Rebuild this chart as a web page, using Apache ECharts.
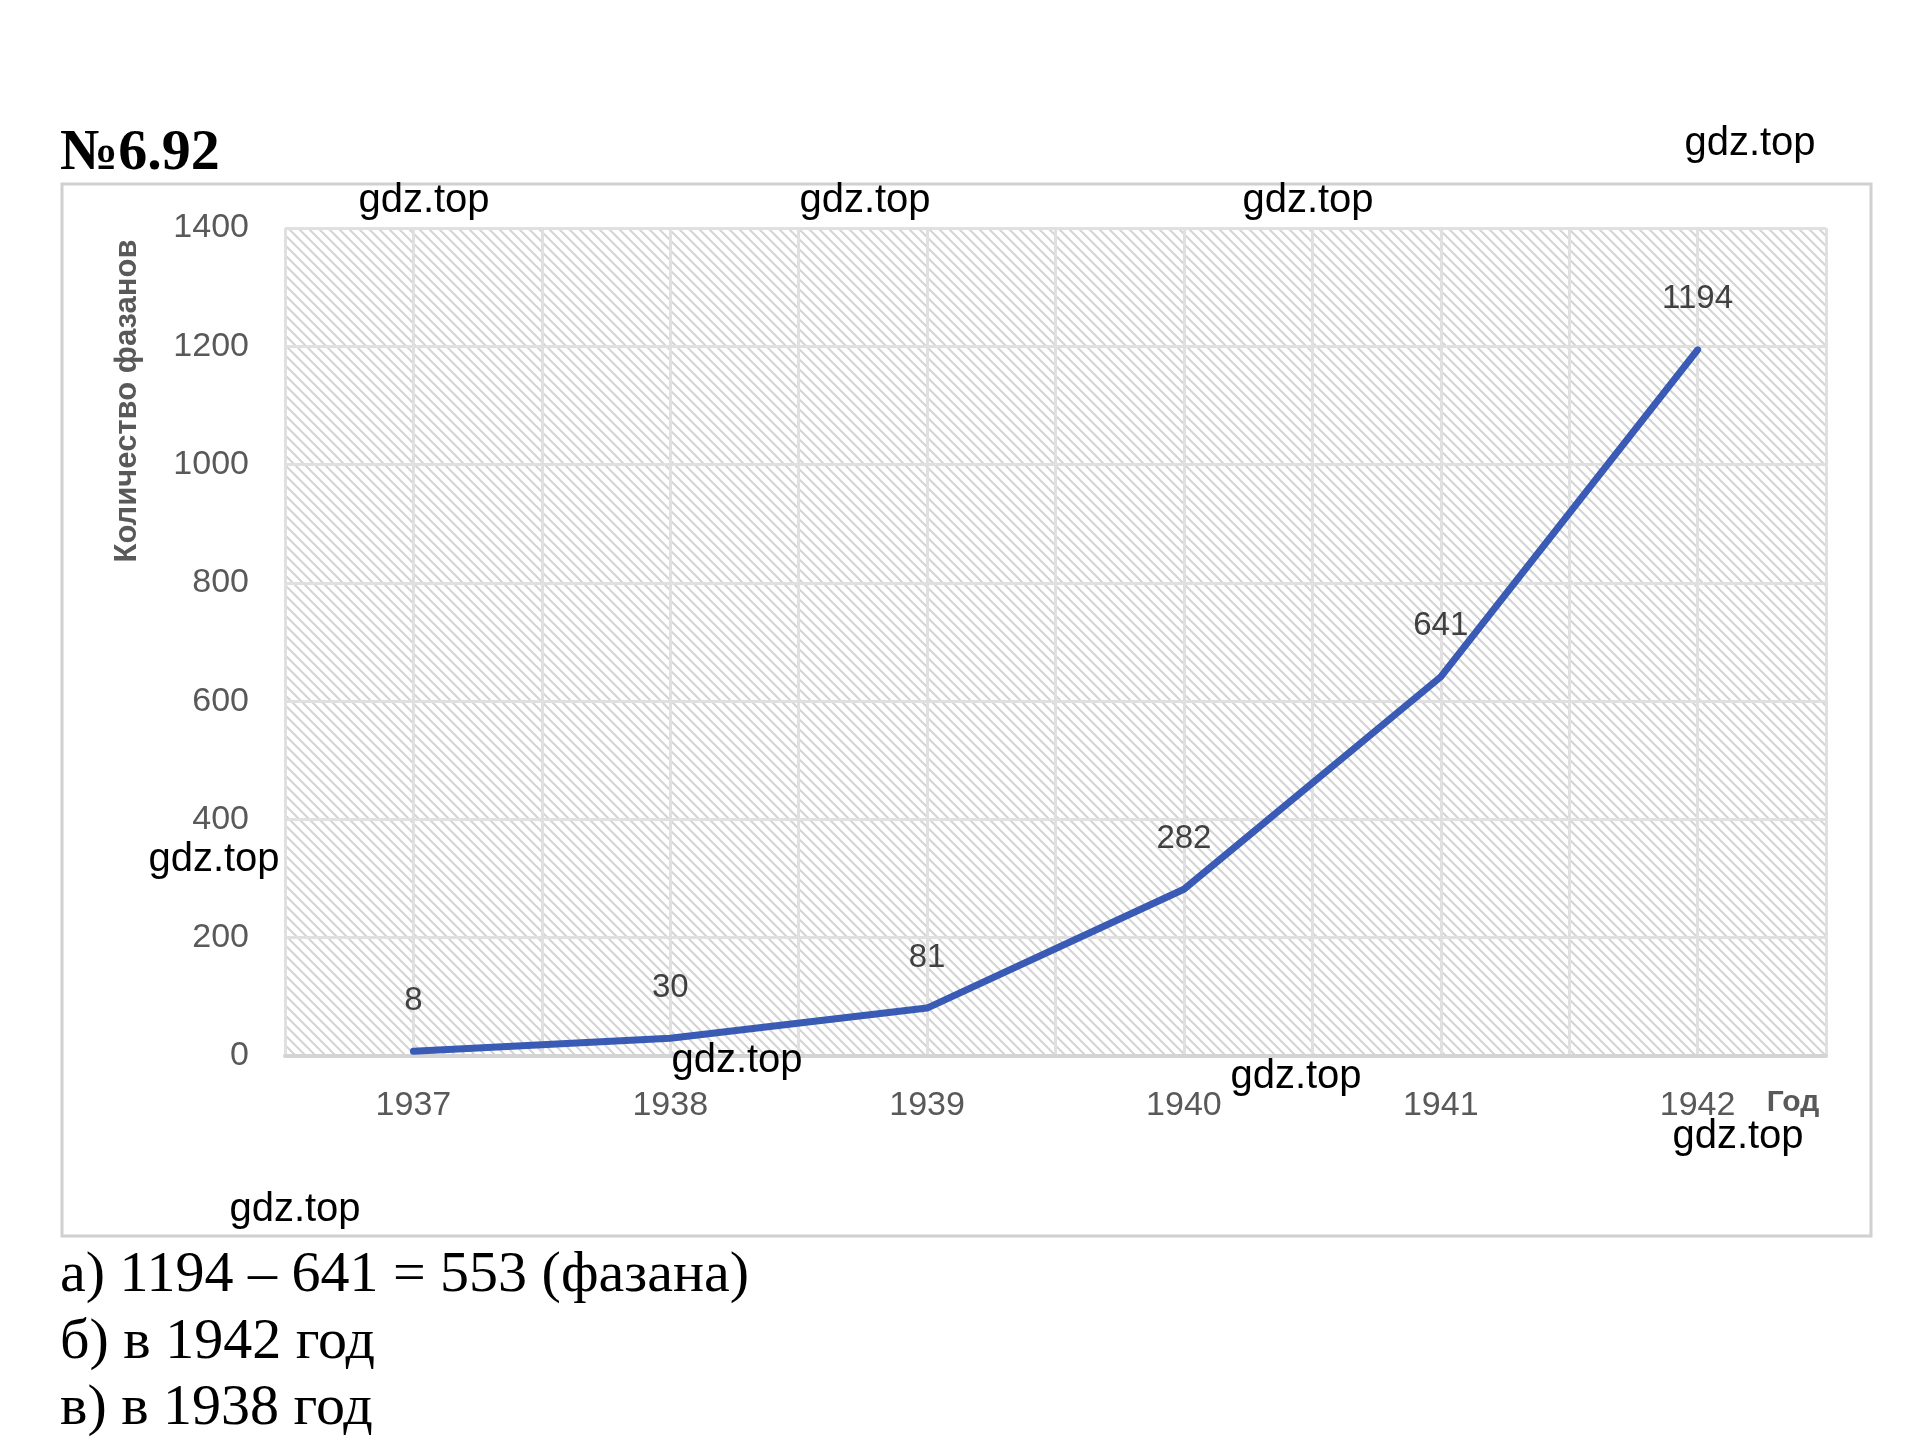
<!DOCTYPE html>
<html>
<head>
<meta charset="utf-8">
<script src="https://cdn.jsdelivr.net/npm/echarts@6/dist/echarts.min.js"></script>
<style>
html,body{margin:0;padding:0;background:#fff;}
#c{width:1923px;height:1437px;}
</style>
</head>
<body>
<div id="c"></div>
<script>
const years = [1937, 1938, 1939, 1940, 1941, 1942];
const counts = [8, 30, 81, 282, 641, 1194];
const yTicks = [0, 200, 400, 600, 800, 1000, 1200, 1400];
const titleText = '№6.92';
const yAxisTitle = 'Количество фазанов';
const xAxisTitle = 'Год';
const answers = ['а) 1194 – 641 = 553 (фазана)', 'б) в 1942 год', 'в) в 1938 год'];
const watermark = 'gdz.top';
const watermarkPos = [[1750,144],[424,201],[865,201],[1308,201],[214,860],[737,1061],[1296,1077],[1738,1137],[295,1210]];

// hatch pattern
const S = 10;
const pc = document.createElement('canvas');
pc.width = S; pc.height = S;
const pctx = pc.getContext('2d');
pctx.fillStyle = '#ffffff';
pctx.fillRect(0,0,S,S);
pctx.strokeStyle = '#d4d4d4';
pctx.lineWidth = 2;
pctx.beginPath();
pctx.moveTo(-2,-2); pctx.lineTo(S+2,S+2);
pctx.moveTo(-S-2,-2); pctx.lineTo(2,S+2);
pctx.moveTo(S-2,-2); pctx.lineTo(2*S+2,S+2);
pctx.stroke();

const chart = echarts.init(document.getElementById('c'), null, {renderer:'canvas'});

const graphics = [
  {type:'rect', shape:{x:62, y:184, width:1809, height:1052}, style:{fill:'none', stroke:'#d0d0d0', lineWidth:3}, z:-10},
  {type:'text', left:60, top:125, style:{text:titleText, font:'bold 58px "Liberation Serif", serif', fill:'#000'}},
  {type:'text', x:127, y:401, rotation:Math.PI/2, style:{text:yAxisTitle, font:'bold 31px "Liberation Sans", sans-serif', fill:'#595959', textAlign:'center', textVerticalAlign:'middle'}},
  {type:'text', x:1793, y:1103, style:{text:xAxisTitle, font:'bold 30px "Liberation Sans", sans-serif', fill:'#595959', textAlign:'center', textVerticalAlign:'middle'}}
];
answers.forEach((t,i)=>{
  graphics.push({type:'text', x:60, y:[1276,1343,1409][i], style:{text:t, font:'58px "Liberation Serif", serif', fill:'#000', textAlign:'left', textVerticalAlign:'middle'}});
});
watermarkPos.forEach(p=>{
  graphics.push({type:'text', x:p[0], y:p[1], z:100, style:{text:watermark, font:'40px "Liberation Sans", sans-serif', fill:'#000', textAlign:'center', textVerticalAlign:'middle'}});
});

chart.setOption({
  animation:false,
  backgroundColor:'#fff',
  grid:{left:285, right:97, top:228, height:828, show:true, backgroundColor:{image:pc, repeat:'repeat'}, borderWidth:0},
  xAxis:{
    type:'value', min:years[0]-0.5, max:years[years.length-1]+0.5, interval:0.5,
    axisLine:{show:true, lineStyle:{color:'#d4d4d4', width:4}},
    axisTick:{show:false},
    splitLine:{show:true, lineStyle:{color:'#e0e0e0', width:3}},
    axisLabel:{margin:33, color:'#595959', fontSize:34, fontFamily:'"Liberation Sans", sans-serif',
      formatter:v=>years.indexOf(v)>=0 ? String(v) : ''}
  },
  yAxis:{
    type:'value', min:yTicks[0], max:yTicks[yTicks.length-1], interval:200,
    axisLine:{show:false}, axisTick:{show:false},
    splitLine:{show:true, lineStyle:{color:'#e0e0e0', width:3}},
    axisLabel:{margin:36, color:'#595959', fontSize:34, fontFamily:'"Liberation Sans", sans-serif',
      formatter:v=>String(v)}
  },
  series:[{
    type:'line',
    data:years.map((y,i)=>[y, counts[i]]),
    showSymbol:true, symbol:'circle', symbolSize:2,
    itemStyle:{color:'rgba(0,0,0,0)', borderColor:'rgba(0,0,0,0)', borderWidth:0},
    lineStyle:{color:'#3a5bb5', width:7, cap:'round', join:'round'},
    label:{show:true, position:'top', distance:33, color:'#404040', fontSize:33, fontFamily:'"Liberation Sans", sans-serif',
      formatter:p=>String(p.value[1])},
    emphasis:{disabled:true},
    z:5
  }],
  graphic:graphics
});
</script>
</body>
</html>
